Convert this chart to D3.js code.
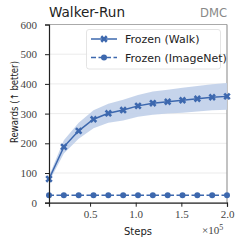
<!DOCTYPE html>
<html><head><meta charset="utf-8">
<script src="https://cdn.jsdelivr.net/npm/d3@7"></script>
<style>body{margin:0;background:#fff}svg{display:block}</style>
</head><body>
<script>
const steps = [5000,21250,37500,53750,70000,86250,102500,118750,135000,151250,167500,183750,200000];
const walkMean = [80,188,242,281,301,312,326,335,340,345,350,355,358];
const walkStd = [10,22,27,30,32,35,37,39,40,42,43,44,45];
const imagenetMean = [25,25,25,25,25,25,25,25,25,25,25,25,25];
const seriesNames = ["Frozen (Walk)","Frozen (ImageNet)"];
const yTicks = [0,100,200,300,400,500,600];
const xTicks = [50000,100000,150000,200000];
const xTickLabels = ["0.5","1.0","1.5","2.0"];

const W=240,H=244;
const m={l:49,r:13,t:24.5,b:41.3};
const svg=d3.select("body").append("svg").attr("width",W).attr("height",H);
const x=d3.scaleLinear().domain([5000,200000]).range([m.l,W-m.r]);
const y=d3.scaleLinear().domain([0,600]).range([H-m.b,m.t]);
const col="#3d68ae", band="#c3d2ea";
const serif="'Liberation Serif', serif", sans="'DejaVu Sans', sans-serif";

// grid
svg.append("g").selectAll("line").data(yTicks).join("line")
 .attr("x1",m.l).attr("x2",W-m.r).attr("y1",d=>y(d)).attr("y2",d=>y(d))
 .attr("stroke","#e6e6e6").attr("stroke-width",0.8);
// top/right spines
svg.append("line").attr("x1",m.l).attr("x2",W-m.r).attr("y1",m.t).attr("y2",m.t).attr("stroke","#999").attr("stroke-width",0.8);
svg.append("line").attr("x1",W-m.r).attr("x2",W-m.r).attr("y1",m.t).attr("y2",H-m.b).attr("stroke","#999").attr("stroke-width",1.2);

const data=steps.map((s,i)=>({s,m:walkMean[i],sd:walkStd[i],im:imagenetMean[i]}));
svg.append("path").datum(data)
 .attr("d",d3.area().x(d=>x(d.s)).y0(d=>y(d.m-d.sd)).y1(d=>y(d.m+d.sd)))
 .attr("fill",band).attr("opacity",0.95);
svg.append("path").datum(data).attr("d",d3.line().x(d=>x(d.s)).y(d=>y(d.m)))
 .attr("fill","none").attr("stroke",col).attr("stroke-width",1.5);
const xsym=d3.symbol().type(d3.symbolCross).size(34);
svg.append("g").selectAll("path").data(data).join("path")
 .attr("d",xsym).attr("transform",d=>`translate(${x(d.s)},${y(d.m)}) rotate(45)`).attr("fill",col);
svg.append("path").datum(data).attr("d",d3.line().x(d=>x(d.s)).y(d=>y(d.im)))
 .attr("fill","none").attr("stroke",col).attr("stroke-width",1.5).attr("stroke-dasharray","5,2.5");
svg.append("g").selectAll("circle").data(data).join("circle")
 .attr("cx",d=>x(d.s)).attr("cy",d=>y(d.im)).attr("r",3).attr("fill",col);

// axes
const ya=svg.append("g").attr("transform",`translate(${m.l},0)`)
 .call(d3.axisLeft(y).tickValues(yTicks).tickSize(4).tickPadding(8));
const xa=svg.append("g").attr("transform",`translate(0,${H-m.b})`)
 .call(d3.axisBottom(x).tickValues(xTicks).tickFormat((d,i)=>xTickLabels[i]).tickSize(4).tickPadding(4));
[ya,xa].forEach(a=>{a.select(".domain").attr("stroke","#222").attr("stroke-width",1.2);
 a.selectAll(".tick line").attr("stroke","#222").attr("stroke-width",1);
 a.selectAll("text").attr("font-family",serif).attr("font-size",11).attr("fill","#444");});

// texts
svg.append("text").attr("x",49).attr("y",17).attr("font-family",sans).attr("font-size",14).attr("textLength",76).attr("lengthAdjust","spacingAndGlyphs").attr("fill","#222").text("Walker-Run");
svg.append("text").attr("x",227).attr("y",16.5).attr("text-anchor","end").attr("font-family",sans).attr("font-size",11.5).attr("textLength",27).attr("lengthAdjust","spacingAndGlyphs").attr("fill","#888").text("DMC");
svg.append("text").attr("x",138).attr("y",235).attr("text-anchor","middle").attr("font-family",sans).attr("font-size",10.5).attr("textLength",28).attr("lengthAdjust","spacingAndGlyphs").attr("fill","#222").text("Steps");
svg.append("text").attr("transform",`translate(17.5,102) rotate(-90)`).attr("text-anchor","middle").attr("font-family",sans).attr("font-size",10).attr("textLength",82).attr("lengthAdjust","spacingAndGlyphs").attr("fill","#222").text("Rewards (↑ better)");
const ex=svg.append("text").attr("x",202).attr("y",234).attr("font-family",serif).attr("font-size",11).attr("fill","#444");
ex.append("tspan").text("×10");
ex.append("tspan").attr("dy",-4.5).attr("font-size",8).text("5");

// legend
const lg=svg.append("g");
lg.append("rect").attr("x",86.5).attr("y",29.5).attr("width",134).attr("height",39.5).attr("rx",2.5)
 .attr("fill","#fff").attr("fill-opacity",0.85).attr("stroke","#ddd").attr("stroke-width",0.8);
const ly=[39,57.5];
lg.append("line").attr("x1",91).attr("x2",117).attr("y1",ly[0]).attr("y2",ly[0]).attr("stroke",col).attr("stroke-width",1.5);
lg.append("path").attr("d",xsym).attr("transform",`translate(104,${ly[0]}) rotate(45)`).attr("fill",col);
lg.append("line").attr("x1",91).attr("x2",117).attr("y1",ly[1]).attr("y2",ly[1]).attr("stroke",col).attr("stroke-width",1.5).attr("stroke-dasharray","5,2.5");
lg.append("circle").attr("cx",104).attr("cy",ly[1]).attr("r",3).attr("fill",col);
seriesNames.forEach((n,i)=>lg.append("text").attr("x",125).attr("y",ly[i]+4).attr("font-family",sans).attr("font-size",11).attr("fill","#222").text(n));
</script>
</body></html>
